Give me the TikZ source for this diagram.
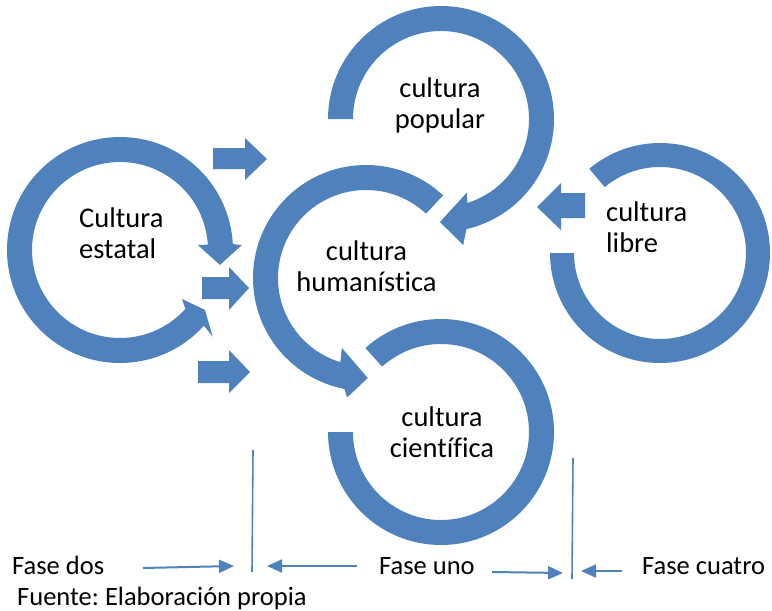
\documentclass[tikz,border=0pt]{standalone}
\usepackage{fontspec}
\setmainfont[Ligatures=NoCommon]{Carlito}
\usetikzlibrary{arrows.meta}
\definecolor{ofblue}{RGB}{79,129,189}
\tikzset{
  ring/.style={fill=ofblue, draw=none},
  blockarrow/.style={fill=ofblue, draw=none},
  label/.style={inner sep=0pt, font=\fontsize{28.5}{31}\selectfont},
  phase/.style={inner sep=0pt, font=\fontsize{26.5}{28}\selectfont},
  divider/.style={draw=ofblue, line width=1.6pt},
  phasearrow/.style={draw=ofblue, line width=2pt, -{Triangle[length=15pt,width=13pt]}}
}
\frenchspacing
\begin{document}
\begin{tikzpicture}[x=1pt,y=-1pt]
\useasboundingbox (0,0) rectangle (772,611);
% ring: Cultura estatal
\fill[ring, shift={(120,250)}] (42:113) arc[start angle=42, end angle=357, radius=113]
  -- (357.7:122) -- (368.5:101) -- (356.3:78) -- (356.5:88)
  arc[start angle=356.5, end angle=42, radius=88]
  -- (38.3:79) -- (35.2:104) -- (43.1:127) -- cycle;
% ring: cultura humanistica
\fill[ring, shift={(366,278)}] (313:113) arc[start angle=313, end angle=101, radius=113]
  -- (99:121) -- (89:100) -- (109:74) -- (107:88)
  arc[start angle=107, end angle=313, radius=88] -- cycle;
% ring: cultura popular
\fill[ring, shift={(441,119)}] (180:113) arc[start angle=180, end angle=437, radius=113]
  -- (440:128) -- (450.6:103) -- (430.6:78) -- (432.5:88)
  arc[start angle=432.5, end angle=180, radius=88] -- cycle;
% ring: cultura libre
\fill[ring, shift={(660,253)}] (180:110) arc[start angle=180, end angle=-130, radius=110]
  -- (-130:86) arc[start angle=-130, end angle=180, radius=86] -- cycle;
% ring: cultura cientifica
\fill[ring, shift={(441,432)}] (228:113) arc[start angle=228, end angle=540, radius=113]
  -- (540:88) arc[start angle=540, end angle=228, radius=88] -- cycle;
% block arrows
\fill[blockarrow] (213,148) -- (245,148) -- (245,138) -- (267,159) -- (245,180) -- (245,169) -- (213,169) -- cycle;
\fill[blockarrow] (202,277) -- (229,277) -- (229,267) -- (249,288) -- (229,310) -- (229,299) -- (202,299) -- cycle;
\fill[blockarrow] (198,361) -- (229,361) -- (229,350) -- (250,372) -- (229,393) -- (229,383) -- (198,383) -- cycle;
\fill[blockarrow] (585,193) -- (561,193) -- (561,183) -- (537,207) -- (561,230) -- (561,218) -- (585,218) -- cycle;
% labels (anchor base = baseline of last line)
\node[label, align=left, anchor=base west] (estatal) at (79,258) {Cultura\\estatal};
\node[label, align=center, anchor=base] (human) at (366.5,291) {cultura\\humanística};
\node[label, align=center, anchor=base] (popular) at (440,128) {cultura\\popular};
\node[label, align=left, anchor=base west] (libre) at (606,252) {cultura\\libre};
\node[label, align=center, anchor=base] (cientifica) at (442,457) {cultura\\científica};
% phase texts
\node[phase, anchor=base west] (fdos) at (12,574) {Fase dos};
\node[phase, anchor=base west] (funo) at (379,574) {Fase uno};
\node[phase, anchor=base west] (fcuatro) at (642,574) {Fase cuatro};
\node[phase, anchor=base west] (fuente) at (17,605) {Fuente: Elaboración propia};
% dividers
\coordinate (d1top) at (253,450);
\coordinate (d1bot) at (252,572);
\coordinate (d2top) at (573,458);
\coordinate (d2bot) at (572,579);
\draw[divider] (d1top) -- (d1bot);
\draw[divider] (d2top) -- (d2bot);
% phase arrows
\coordinate (a1s) at (143,568); \coordinate (a1e) at (234,566);
\coordinate (a2s) at (357,566); \coordinate (a2e) at (267,566);
\coordinate (a3s) at (492,572); \coordinate (a3e) at (563,573);
\coordinate (a4s) at (622,571); \coordinate (a4e) at (581,571);
\draw[phasearrow] (a1s) -- (a1e);
\draw[phasearrow] (a2s) -- (a2e);
\draw[phasearrow] (a3s) -- (a3e);
\draw[phasearrow] (a4s) -- (a4e);
\end{tikzpicture}
\end{document}
